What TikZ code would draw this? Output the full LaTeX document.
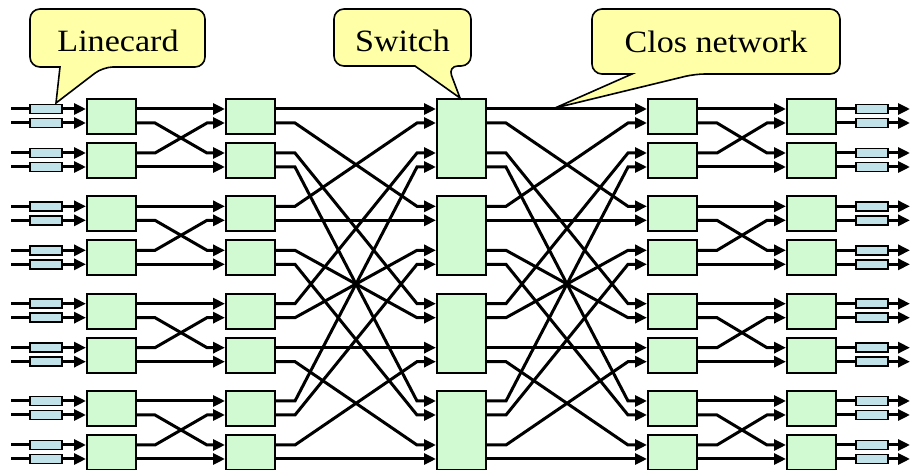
\documentclass[tikz,border=0pt]{standalone}
\usepackage{fontspec}
\setmainfont{Liberation Serif}[FakeStretch=1.1]
\usetikzlibrary{arrows.meta,calc}

\definecolor{swgreen}{RGB}{210,250,210}
\definecolor{cardblue}{RGB}{192,226,232}
\definecolor{noteyellow}{RGB}{255,255,168}

\tikzset{
  wire/.style={line width=3pt,black},
  arr/.style={-{Triangle[length=12pt,width=11pt]}},
  smallsw/.style={draw,line width=2pt,fill=swgreen,minimum width=49pt,minimum height=35pt,inner sep=0pt},
  bigsw/.style={draw,line width=2pt,fill=swgreen,minimum width=49pt,minimum height=79pt,inner sep=0pt},
  card/.style={draw,line width=1.8pt,fill=cardblue,minimum width=32pt,minimum height=9pt,inner sep=0pt},
  note/.style={draw,line width=1.6pt,fill=noteyellow},
  notetext/.style={anchor=base,inner sep=0pt,font=\fontsize{31}{37}\selectfont}
}

\begin{document}
\begin{tikzpicture}[x=1pt,y=-1pt]
\useasboundingbox (0,0) rectangle (910,470);

% horizontal levels of the sixteen lines
\foreach \i in {0,...,15}{
  \pgfmathtruncatemacro\grp{\i/4}
  \pgfmathtruncatemacro\pos{mod(\i,4)}
  \pgfmathsetmacro\off{{0,14,44,58}[\pos]}
  \coordinate (L\i) at (0,{109+97.33*\grp+\off});
}

% two-port switch elements of stages 1, 2, 4, 5
\foreach \k in {0,...,7}{
  \pgfmathtruncatemacro\ka{2*\k}
  \pgfmathtruncatemacro\kb{2*\k+1}
  \node[smallsw] (A\k) at ($(L\ka)!0.5!(L\kb)+(111.5,0.5)$) {};
  \node[smallsw] (B\k) at ($(L\ka)!0.5!(L\kb)+(250.5,0.5)$) {};
  \node[smallsw] (C\k) at ($(L\ka)!0.5!(L\kb)+(672.5,0.5)$) {};
  \node[smallsw] (D\k) at ($(L\ka)!0.5!(L\kb)+(811.5,0.5)$) {};
}

% four-port middle switches
\foreach \m in {0,...,3}{
  \pgfmathtruncatemacro\fa{4*\m}
  \pgfmathtruncatemacro\fb{4*\m+3}
  \node[bigsw] (S\m) at ($(L\fa)!0.5!(L\fb)+(461.5,0.5)$) {};
}

% line cards and interconnect
\foreach \i in {0,...,15}{
  \pgfmathtruncatemacro\grp{\i/4}
  \pgfmathtruncatemacro\pos{mod(\i,4)}
  \pgfmathtruncatemacro\swp{{0,2,1,3}[\pos]}
  \pgfmathtruncatemacro\perm{4*\grp+\swp}
  \pgfmathtruncatemacro\trn{4*\pos+\grp}
  \pgfmathtruncatemacro\hb{\i/2}
  \pgfmathtruncatemacro\permb{\perm/2}
  \pgfmathtruncatemacro\trnb{\trn/2}
  \pgfmathtruncatemacro\trnq{\trn/4}
  % input line cards
  \node[card] (P\i) at ($(L\i)+(46,0)$) {};
  \coordinate (I\i) at ($(L\i)+(11,0)$);
  \draw[wire] (I\i) -- (P\i.west);
  \draw[wire,arr] (P\i.east) -- (A\hb.west |- L\i);
  % stage 1 -> stage 2
  \draw[wire,arr] (A\hb.east |- L\i) -- ++(18,0)
    -- ($(B\permb.west |- L\perm)+(-18,0)$) -- (B\permb.west |- L\perm);
  % stage 2 -> middle
  \draw[wire,arr] (B\hb.east |- L\i) -- ++(19,0)
    -- ($(S\trnq.west |- L\trn)+(-19,0)$) -- (S\trnq.west |- L\trn);
  % middle -> stage 4
  \draw[wire,arr] (S\grp.east |- L\i) -- ++(19,0)
    -- ($(C\trnb.west |- L\trn)+(-19,0)$) -- (C\trnb.west |- L\trn);
  % stage 4 -> stage 5
  \draw[wire,arr] (C\hb.east |- L\i) -- ++(19,0)
    -- ($(D\permb.west |- L\perm)+(-19,0)$) -- (D\permb.west |- L\perm);
  % output line cards
  \node[card] (Q\i) at ($(L\i)+(872,0)$) {};
  \coordinate (O\i) at ($(L\i)+(910,0)$);
  \draw[wire] (D\hb.east |- L\i) -- (Q\i.west);
  \draw[wire,arr] (Q\i.east) -- (O\i);
}

% callouts
\draw[note] (30,38) [rounded corners=10] -- (30,9) -- (205,9) -- (205,67) -- (103,67)
  [sharp corners] -- (56,103) -- (60,67) [rounded corners=10] -- (30,67) -- cycle;
\node[notetext] (t1) at (118,52) {Linecard};

\draw[note] (334,38) [rounded corners=10] -- (334,9) -- (471,9) -- (471,66) -- (448,66)
  [sharp corners] -- (460,98) -- (415,66) [rounded corners=10] -- (334,66) -- cycle;
\node[notetext] (t2) at (402.5,52) {Switch};

\draw[note] (592,40) [rounded corners=10] -- (592,9) -- (840,9) -- (840,74) -- (695,74)
  [sharp corners] -- (555,108) -- (632,74) [rounded corners=10] -- (592,74) -- cycle;
\node[notetext] (t3) at (716,53) {Clos network};

\end{tikzpicture}
\end{document}
